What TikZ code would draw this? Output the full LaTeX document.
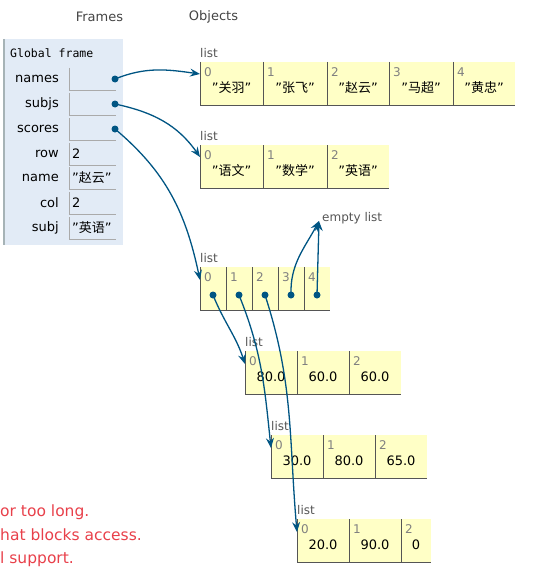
\documentclass[tikz,border=0pt]{standalone}
\usepackage{fontspec}
\setmainfont{DejaVu Sans}
\newfontfamily\cjk{Noto Sans CJK SC}
\newfontfamily\monof{DejaVu Sans Mono}
\usetikzlibrary{arrows.meta}
\definecolor{framebg}{HTML}{E2EBF6}
\definecolor{frameedge}{HTML}{A6B3B6}
\definecolor{cellbg}{HTML}{FFFFC6}
\definecolor{celledge}{HTML}{555555}
\definecolor{varedge}{HTML}{AAAAAA}
\definecolor{ptr}{HTML}{005583}
\definecolor{idxc}{HTML}{808080}
\definecolor{lblc}{HTML}{555555}
\definecolor{headc}{HTML}{444444}
\definecolor{errc}{HTML}{E8404A}

\newcommand\zs[1]{"{\cjk #1}"}

\tikzset{
  cell/.style={fill=cellbg, minimum height=43pt, inner sep=0pt, outer sep=0pt, anchor=north west},
  idx/.style={text=idxc, font=\fontsize{12}{12}\selectfont, anchor=west, inner sep=0pt},
  val/.style={font=\fontsize{13}{13}\selectfont, inner sep=0pt},
  cellline/.style={draw=celledge, line width=1pt},
  listlbl/.style={text=lblc, font=\fontsize{12}{12}\selectfont, anchor=base west, inner sep=0pt},
  ptrline/.style={draw=ptr, line width=1.3pt, -{Stealth[length=10pt,width=8pt,inset=3.5pt]}},
  ptrdot/.style={circle, fill=ptr, inner sep=0pt, minimum size=7pt},
  vcell/.style={minimum width=47pt, minimum height=22pt, inner sep=0pt, outer sep=0pt},
  varline/.style={draw=varedge, line width=1pt},
  vlbl/.style={anchor=east, inner sep=0pt, font=\fontsize{13}{13}\selectfont},
  vval/.style={anchor=west, inner sep=0pt, font=\fontsize{13}{13}\selectfont},
  head/.style={text=headc, font=\fontsize{13}{13}\selectfont, inner sep=0pt},
  errtxt/.style={text=errc, anchor=base west, inner sep=0pt, font=\fontsize{15.5}{15.5}\selectfont},
}

\newcommand\hcell[6]{%
  \node[cell, minimum width=#4pt] (#1) at (#2,#3) {};
  \node[idx] (#1i) at ([xshift=4pt,yshift=-10pt]#1.north west) {#5};
  \node[val] (#1v) at ([yshift=-26pt]#1.north) {#6};
  \draw[cellline] (#1.north west) -- (#1.south west) -- (#1.south east);
}
\newcommand\fvar[4]{%
  \node[vcell] (#1) at (92.5,#2) {};
  \draw[varline] (#1.north west) -- (#1.south west) -- (#1.south east);
  \node[vlbl] (#1l) at (59,#2) {#3};
  \node[vval] (#1v) at (72,#2) {#4};
}

\begin{document}
\begin{tikzpicture}[x=1pt,y=-1pt]
\useasboundingbox (0,0) rectangle (533,578);

% headers
\node[head] (hf) at (99.5,17) {Frames};
\node[head] (ho) at (213.5,17) {Objects};

% frame
\node[fill=framebg, minimum width=119pt, minimum height=206pt, inner sep=0pt, outer sep=0pt, anchor=north west] (gf) at (4,39) {};
\draw[draw=frameedge, line width=1.2pt] (gf.north west) -- (gf.south west);
\node[anchor=west, inner sep=0pt, font=\monof\fontsize{11.5}{11.5}\selectfont] (gft) at (10,53) {Global frame};
\fvar{vnames}{79}{names}{}
\fvar{vsubjs}{104}{subjs}{}
\fvar{vscores}{129}{scores}{}
\fvar{vrow}{154}{row}{2}
\fvar{vname}{178}{name}{\zs{赵云}}
\fvar{vcol}{203}{col}{2}
\fvar{vsubj}{228}{subj}{\zs{英语}}

% list names
\node[listlbl] (lnl) at (200,57) {list};
\hcell{N0}{200}{62}{63}{0}{\zs{关羽}}
\hcell{N1}{263}{62}{64}{1}{\zs{张飞}}
\hcell{N2}{327}{62}{62}{2}{\zs{赵云}}
\hcell{N3}{389}{62}{64}{3}{\zs{马超}}
\hcell{N4}{453}{62}{62}{4}{\zs{黄忠}}

% list subjs
\node[listlbl] (lsl) at (200,140) {list};
\hcell{S0}{200}{145}{63}{0}{\zs{语文}}
\hcell{S1}{263}{145}{64}{1}{\zs{数学}}
\hcell{S2}{327}{145}{62}{2}{\zs{英语}}

% list scores
\node[listlbl] (lcl) at (200,262) {list};
\hcell{C0}{200}{267}{26}{0}{}
\hcell{C1}{226}{267}{26}{1}{}
\hcell{C2}{252}{267}{26}{2}{}
\hcell{C3}{278}{267}{26}{3}{}
\hcell{C4}{304}{267}{26}{4}{}

% empty list
\node[listlbl, anchor=west] (el) at (322,218) {empty list};

% list A
\node[listlbl] (lal) at (245,346) {list};
\hcell{A0}{245}{351}{52}{0}{80.0}
\hcell{A1}{297}{351}{52}{1}{60.0}
\hcell{A2}{349}{351}{52}{2}{60.0}

% list B
\node[listlbl] (lbl) at (271,430) {list};
\hcell{B0}{271}{435}{52}{0}{30.0}
\hcell{B1}{323}{435}{52}{1}{80.0}
\hcell{B2}{375}{435}{52}{2}{65.0}

% list C
\node[listlbl] (lcc) at (297,514) {list};
\hcell{D0}{297}{519}{52}{0}{20.0}
\hcell{D1}{349}{519}{52}{1}{90.0}
\hcell{D2}{401}{519}{30}{2}{0}

% dots
\node[ptrdot] (dn) at (115,79) {};
\node[ptrdot] (ds) at (115,104) {};
\node[ptrdot] (dc) at (115,129) {};
\node[ptrdot] (d0) at ([yshift=-28pt]C0.north) {};
\node[ptrdot] (d1) at ([yshift=-28pt]C1.north) {};
\node[ptrdot] (d2) at ([yshift=-28pt]C2.north) {};
\node[ptrdot] (d3) at ([yshift=-28pt]C3.north) {};
\node[ptrdot] (d4) at ([yshift=-28pt]C4.north) {};

% pointers
\draw[ptrline] (dn.center) to[out=22,in=172] ([yshift=-12pt]N0.north west);
\draw[ptrline] (ds.center) to[out=-12,in=125] ([yshift=-12pt]S0.north west);
\draw[ptrline] (dc.center) to[out=-40,in=102] ([yshift=-13pt]C0.north west);
\draw[ptrline] (d0.center) to[out=-68,in=108] ([yshift=-13pt]A0.north west);
\draw[ptrline] (d1.center) to[out=-68,in=96] ([yshift=-13pt]B0.north west);
\draw[ptrline] (d2.center) to[out=-72,in=95] ([yshift=-13pt]D0.north west);
\draw[ptrline] (d3.center) to[out=92,in=-118] ([xshift=-3pt,yshift=-3pt]el.west);
\draw[ptrline] (d4.center) -- ([xshift=-3pt,yshift=-3pt]el.west);

% error text
\node[errtxt] (e1) at (0,516) {or too long.};
\node[errtxt] (e2) at (0,540) {hat blocks access.};
\node[errtxt] (e3) at (0,563) {l support.};
\end{tikzpicture}
\end{document}
